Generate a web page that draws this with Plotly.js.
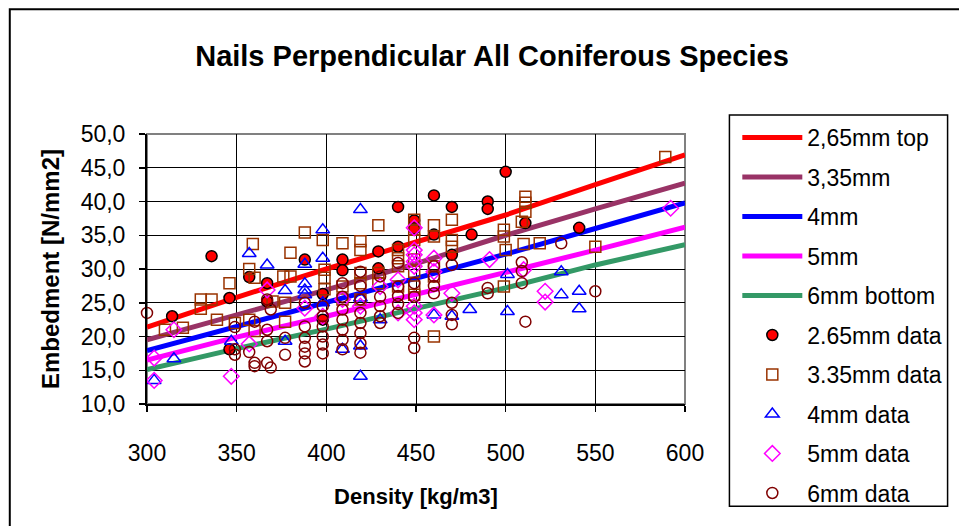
<!DOCTYPE html>
<html>
<head>
<meta charset="utf-8">
<script src="https://cdn.plot.ly/plotly-3.0.1.min.js"></script>
<style>html,body{margin:0;padding:0;background:#fff;}#chart{width:959px;height:526px;}</style>
</head>
<body>
<div id="chart"></div>
<script>
// Fitted lines
const lineX = [300, 350, 400, 450, 500, 550, 600];
const line265 = [21.4, 25.8, 30.0, 34.0, 38.0, 42.5, 46.9];
const line335 = [19.5, 23.2, 26.9, 30.8, 35.0, 38.9, 42.7];
const line4 = [17.9, 21.5, 25.1, 28.7, 32.2, 36.0, 39.8];
const line5 = [16.5, 19.9, 23.0, 26.2, 29.5, 32.8, 36.2];
const line6 = [15.1, 18.2, 21.1, 24.1, 27.2, 30.6, 33.6];

// Test data
const d265x = [314,336,346,346,357,367,367,388,398,398,409,409,429,429,440,440,449,449,460,460,470,470,481,490,490,500,511,541];
const d265y = [23.0,31.9,25.7,18.1,28.8,27.9,25.2,31.4,26.3,22.5,31.4,29.8,32.6,30.1,39.2,33.3,37.2,36.0,40.9,35.1,39.2,32.1,35.1,40.0,38.9,44.4,36.8,36.1];

const d335x = [310,320,330,330,336,339,346,349,357,357,359,360,360,370,376,377,377,380,380,388,398,399,399,399,409,409,409,419,419,419,419,419,429,429,429,440,440,440,440,449,449,449,449,449,449,449,460,460,460,460,460,470,470,470,499,499,500,499,509,510,511,511,511,519,550,589];
const d335y = [21.0,21.3,25.5,24.1,25.5,22.5,27.9,22.0,30.0,22.5,33.7,28.7,20.8,25.2,28.9,25.0,22.2,32.4,28.9,35.4,34.3,29.9,28.7,27.0,33.8,27.4,25.5,34.1,32.8,29.4,27.9,25.5,36.5,29.4,27.9,32.8,31.6,30.4,27.4,37.3,35.8,34.3,31.4,29.6,27.4,26.2,36.5,34.8,30.4,28.9,20.0,37.3,34.3,33.3,35.8,34.8,32.8,27.4,37.0,33.7,40.7,39.8,38.5,33.8,33.3,46.6];

const d4x = [304,315,347,357,367,377,377,388,388,388,388,398,398,398,409,419,419,419,419,430,460,470,480,501,501,531,531,541,541];
const d4y = [13.5,16.7,19.3,32.3,30.6,26.8,19.3,30.7,27.8,26.9,26.2,35.8,31.6,25.0,18.1,38.8,25.7,18.6,14.1,22.5,23.2,23.0,24.0,29.2,23.7,29.6,26.2,26.7,24.1];

const d5x = [304,304,315,347,357,367,388,398,409,419,430,440,440,449,449,449,449,449,449,449,449,460,460,460,470,491,510,522,522,592];
const d5y = [16.8,13.5,21.0,14.1,18.9,26.9,24.2,23.0,25.5,24.5,27.4,28.4,23.5,36.1,32.8,32.1,31.1,30.4,24.5,23.5,22.5,31.6,29.6,23.2,26.4,31.4,29.9,26.7,25.1,39.0];

const d6x = [300,349,349,349,357,360,360,360,367,367,367,367,369,369,377,377,388,388,388,388,388,388,398,398,398,398,398,398,409,409,409,409,409,409,409,419,419,419,419,419,419,419,419,430,430,430,430,430,440,440,440,440,440,449,449,449,449,460,460,460,460,470,470,470,470,490,490,509,509,509,511,531,550];
const d6y = [23.5,21.4,18.1,17.3,17.7,22.2,16.1,15.6,25.5,21.0,19.3,16.1,24.0,15.4,19.8,17.3,25.0,21.5,19.8,18.5,17.5,16.3,24.5,23.0,21.5,20.0,18.8,17.5,27.9,25.9,24.0,22.5,21.0,19.5,18.1,29.6,27.5,25.5,23.5,22.0,20.5,19.0,17.6,28.9,25.9,24.5,23.0,22.0,30.9,27.4,26.0,24.8,23.5,27.9,25.9,19.8,18.3,30.4,28.9,27.5,26.4,30.6,25.0,23.2,21.8,27.2,26.4,31.0,29.7,27.9,22.2,33.8,26.7];

const lineNames = ['2,65mm top', '3,35mm', '4mm', '5mm', '6mm bottom'];
const lineColors = ['#FF0000', '#993366', '#0000FF', '#FF00FF', '#339966'];
const lineYs = [line265, line335, line4, line5, line6];

const FONT = 'Liberation Sans, Arial, sans-serif';
const traces = [];
lineYs.forEach((ys, i) => {
  traces.push({
    type: 'scatter', mode: 'lines', x: lineX, y: ys, name: lineNames[i],
    legendgroup: 'g' + i,
    line: {color: lineColors[i], width: 5}
  });
});
const dataSeries = [
  {name: '2.65mm data', x: d265x, y: d265y, marker: {symbol: 'circle', size: 11, color: '#FF0000', line: {color: '#000000', width: 1.5}}},
  {name: '3.35mm data', x: d335x, y: d335y, marker: {symbol: 'square-open', size: 11, color: '#993300', line: {color: '#993300', width: 1.5}}},
  {name: '4mm data', x: d4x, y: d4y, marker: {symbol: 'triangle-up-open', size: 12, color: '#0000FF', line: {color: '#0000FF', width: 1.5}}},
  {name: '5mm data', x: d5x, y: d5y, marker: {symbol: 'diamond-open', size: 12, color: '#FF00FF', line: {color: '#FF00FF', width: 1.5}}},
  {name: '6mm data', x: d6x, y: d6y, marker: {symbol: 'circle-open', size: 11, color: '#800000', line: {color: '#800000', width: 1.5}}}
];
dataSeries.forEach((s, i) => {
  traces.push({type: 'scatter', mode: 'markers', x: s.x, y: s.y, name: s.name,
    legendgroup: 'd' + i, marker: s.marker, cliponaxis: false});
});

// pixel helpers for paper coordinates (plot area 147..692 x, 134..404.5 y)
const L = 147, R = 692, T = 134, B = 404.5;
const px = v => (v - L) / (R - L);
const py = v => (B - v) / (B - T);

const layout = {
  width: 959, height: 526,
  margin: {l: L, r: 959 - R, t: T, b: 526 - B, pad: 0},
  paper_bgcolor: '#ffffff', plot_bgcolor: '#ffffff',
  separators: ',.',
  font: {family: FONT, color: '#000000', size: 22},
  title: {text: 'Nails Perpendicular All Coniferous Species',
    font: {family: FONT, size: 29, weight: 'bold', color: '#000'},
    xref: 'container', yref: 'container', x: 492 / 959, xanchor: 'center', y: 1 - 56 / 526, yanchor: 'middle'},
  xaxis: {range: [300, 600], dtick: 50, tick0: 300, showgrid: true, gridcolor: '#000000', gridwidth: 1,
    showline: true, linecolor: '#000000', linewidth: 2, ticks: 'outside', ticklen: 6, tickcolor: '#000', tickwidth: 1.5,
    ticklabelstandoff: 21, tickfont: {size: 23, family: FONT},
    zeroline: false, fixedrange: true,
    title: {text: 'Density [kg/m3]', font: {size: 22, weight: 'bold', family: FONT}, standoff: 24}},
  yaxis: {range: [10, 50], dtick: 5, tick0: 10, tickformat: '.1f', showgrid: true, gridcolor: '#000000', gridwidth: 1,
    showline: true, linecolor: '#000000', linewidth: 2, ticks: 'outside', ticklen: 6, tickcolor: '#000', tickwidth: 1.5,
    ticklabelstandoff: 9, tickfont: {size: 23, family: FONT},
    zeroline: false, fixedrange: true,
    title: {text: 'Embedment [N/mm2]', font: {size: 24, weight: 'bold', family: FONT}, standoff: 14}},
  showlegend: true,
  legend: {x: px(745), y: py(116), xanchor: 'left', yanchor: 'top', bgcolor: 'rgba(0,0,0,0)', borderwidth: 0,
    font: {size: 23, family: FONT, color: '#000'}, tracegroupgap: 6.6, itemwidth: 60, traceorder: 'grouped',
    maxheight: 520},
  shapes: [
    {type: 'rect', xref: 'paper', yref: 'paper', x0: 0, x1: 1, y0: 0, y1: 1, layer: 'between',
      line: {color: '#808080', width: 2}, fillcolor: 'rgba(0,0,0,0)'},
    {type: 'rect', xref: 'paper', yref: 'paper', x0: px(8), x1: px(1000), y0: py(600), y1: py(9), layer: 'above',
      line: {color: '#000000', width: 2}, fillcolor: 'rgba(0,0,0,0)'},
    {type: 'rect', xref: 'paper', yref: 'paper', x0: px(737), x1: px(958), y0: py(507), y1: py(115), layer: 'above',
      line: {color: '#000000', width: 1.5}, fillcolor: 'rgba(0,0,0,0)'}
  ]
};

Plotly.newPlot('chart', traces, layout, {displayModeBar: false, staticPlot: true});
</script>
</body>
</html>
